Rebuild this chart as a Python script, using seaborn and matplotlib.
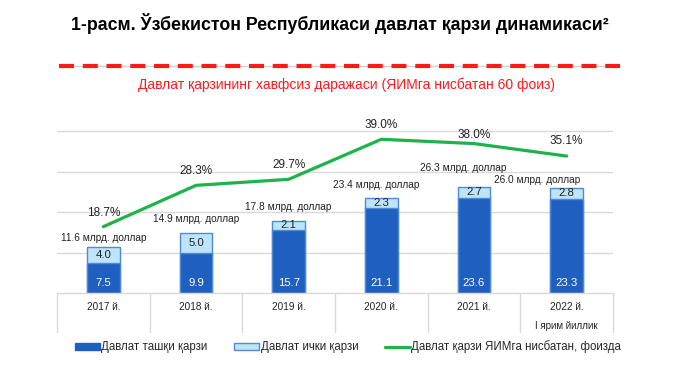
import matplotlib
matplotlib.use("Agg")
import numpy as np
import pandas as pd
import matplotlib.pyplot as plt
import seaborn as sns
from matplotlib.lines import Line2D
from matplotlib.patches import Patch

# ----------------------------------------------------------------------
# Data
# ----------------------------------------------------------------------
years = ["2017 й.", "2018 й.", "2019 й.", "2020 й.", "2021 й.", "2022 й."]
external_debt = [7.5, 9.9, 15.7, 21.1, 23.6, 23.3]
internal_debt = [4.0, 5.0, 2.1, 2.3, 2.7, 2.8]
total_labels = ["11.6", "14.9", "17.8", "23.4", "26.3", "26.0"]
debt_to_gdp = [18.7, 28.3, 29.7, 39.0, 38.0, 35.1]

title = "1-расм. Ўзбекистон Республикаси давлат қарзи динамикаси²"
safe_level_text = "Давлат қарзининг хавфсиз даражаси (ЯИМга нисбатан 60 фоиз)"
sub_label = "I ярим йиллик"
legend_labels = ["Давлат ташқи қарзи", "Давлат ички қарзи",
                 "Давлат қарзи ЯИМга нисбатан, фоизда"]

# ----------------------------------------------------------------------
# Style
# ----------------------------------------------------------------------
sns.set_style("white")
plt.rcParams["font.family"] = ["Liberation Sans", "DejaVu Sans"]

DARK = "#1F5FBF"
LIGHT = "#BDE4F8"
EDGE = "#4F8AD6"
GREEN = "#1DB34A"
GRID = "#D9D9D9"
TXT = "#222222"

df = pd.DataFrame({
    "year": years,
    "external": external_debt,
    "internal": internal_debt,
})
df["total"] = df["external"] + df["internal"]

fig = plt.figure(figsize=(6.8, 3.7), dpi=100)
ax = fig.add_axes([57 / 680, 1 - 293 / 370, 556 / 680, 183 / 370])

# stacked bars: full height light, then dark external part on top
sns.barplot(data=df, x="year", y="total", color=LIGHT, width=0.35,
            edgecolor=EDGE, linewidth=1, ax=ax, saturation=1)
sns.barplot(data=df, x="year", y="external", color=DARK, width=0.35,
            edgecolor=EDGE, linewidth=1, ax=ax, saturation=1)

ax.set_xlim(-0.5, len(years) - 0.5)
ax.set_ylim(0, 45.3)
ax.set_yticks([10, 20, 30, 40])
ax.yaxis.grid(True, color=GRID, linewidth=1)
ax.set_axisbelow(True)
ax.set_xlabel("")
ax.set_ylabel("")
ax.set_xticklabels([])
ax.set_yticklabels([])
ax.tick_params(length=0)
for s in ax.spines.values():
    s.set_visible(False)

# bar labels
for i, row in df.iterrows():
    ax.text(i, row["external"] + row["internal"] / 2, f"{row['internal']:.1f}",
            ha="center", va="center", fontsize=8.2, color=TXT)
    ax.annotate(f"{row['external']:.1f}", xy=(i, 0), xytext=(0, 7),
                textcoords="offset points", ha="center", va="center",
                fontsize=8.2, color="white")

total_offsets = [(0, 6.5), (0, 10), (0, 10), (-3.6, 9.4), (-8, 13.7), (-21.6, 5.8)]
for i, (lab, off) in enumerate(zip(total_labels, total_offsets)):
    ax.annotate(f"{lab} млрд. доллар", xy=(i, df["total"][i]), xytext=off,
                textcoords="offset points", ha="center", va="center",
                fontsize=7.3, color=TXT)

# debt to GDP line on secondary axis
ax2 = ax.twinx()
sns.lineplot(x=np.arange(len(years)), y=debt_to_gdp, color=GREEN,
             linewidth=2.3, ax=ax2)
ax2.set_ylim(3.3, 45.8)
ax2.set_xlim(-0.5, len(years) - 0.5)
ax2.set_yticks([])
for s in ax2.spines.values():
    s.set_visible(False)

pct_offsets = [10, 10, 10, 10.5, 6, 10.5]
for i, (v, off) in enumerate(zip(debt_to_gdp, pct_offsets)):
    ax2.annotate(f"{v:.1f}%", xy=(i, v), xytext=(0, off),
                 textcoords="offset points", ha="center", va="center",
                 fontsize=8.5, color=TXT)

# category table under the axis
trans = ax.get_xaxis_transform()
ax.plot([-0.5, len(years) - 0.5], [0, 0], color=GRID, linewidth=1,
        transform=trans, clip_on=False)
for k in range(len(years) + 1):
    ax.plot([k - 0.5, k - 0.5], [0, -39 / 183], color=GRID, linewidth=1,
            transform=trans, clip_on=False)
for i, y in enumerate(years):
    ax.text(i, -14 / 183, y, ha="center", va="center", fontsize=7.2,
            color=TXT, transform=trans)
ax.text(len(years) - 1, -33 / 183, sub_label, ha="center", va="center",
        fontsize=7, color=TXT, transform=trans)

# title and safe level line
fig.text(0.5, 1 - 24 / 370, title, ha="center", va="center",
         fontsize=12.8, fontweight="bold", color="black")
fig.add_artist(Line2D([59 / 680, 620 / 680], [1 - 66 / 370] * 2,
                      color="#D0D0D0", linewidth=1))
fig.add_artist(Line2D([59 / 680, 620 / 680], [1 - 66 / 370] * 2,
                      color="#FF1A1A", linewidth=3, linestyle=(0, (3.6, 2.1))))
fig.text(346 / 680, 1 - 85 / 370, safe_level_text, ha="center", va="center",
         fontsize=10, color="#FF1A1A")

# legend
handles = [Patch(facecolor=DARK, edgecolor=DARK),
           Patch(facecolor=LIGHT, edgecolor=EDGE),
           Line2D([0], [0], color=GREEN, linewidth=2.3)]
fig.legend(handles, legend_labels, loc="center", ncol=3,
           bbox_to_anchor=(348 / 680, 1 - 347 / 370), frameon=False,
           fontsize=8.3, handlelength=2.2, handleheight=0.5,
           handletextpad=0.1, columnspacing=2.3)

fig.savefig("out.png", dpi=100)
